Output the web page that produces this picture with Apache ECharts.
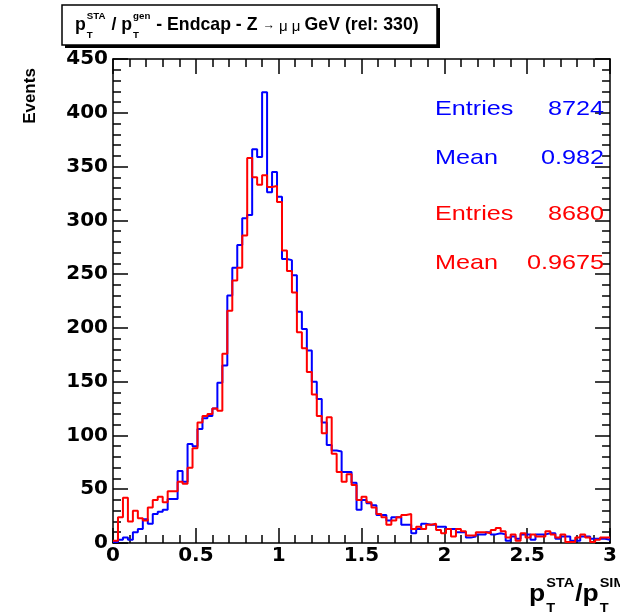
<!DOCTYPE html>
<html>
<head>
<meta charset="utf-8">
<script src="https://cdn.jsdelivr.net/npm/echarts@6.0.0/dist/echarts.min.js"></script>
<style>
html, body { margin: 0; padding: 0; background: #fff; }
#chart { width: 620px; height: 616px; }
</style>
</head>
<body>
<div id="chart"></div>
<script>
// histogram: 100 bins of 0.03 from 0 to 3
const binWidth = 0.03
const xRange = [0, 3]
const yRange = [0, 450]

// blue (rel 330, STA / gen)
const blueCounts = [1, 3, 5, 3, 10, 13, 22, 18, 27, 29, 31, 41, 41, 67, 57, 92, 90,
	106, 116, 118, 125, 149, 165, 230, 256, 277, 302, 305, 366, 359, 419, 326, 345, 322,
	264, 263, 249, 215, 199, 179, 150, 134, 112, 91, 86, 85, 66, 66, 56, 31, 40, 37, 35, 26,
	26, 21, 24, 24, 17, 17, 9, 13, 18, 17, 17, 15, 15, 13, 13, 10, 10, 5, 6, 8, 8, 10,
	8, 9, 8, 2, 6, 4, 8, 8, 3, 8, 8, 9, 9, 4, 6, 6, 2, 2, 6, 6, 4, 4, 4, 3]
// red (reference)
const redCounts = [2, 24, 42, 20, 30, 23, 21, 33, 40, 43, 38, 48, 48, 57, 55, 70, 88,
	112, 118, 120, 125, 123, 176, 216, 244, 256, 286, 358, 340, 333, 342, 331, 332, 317,
	272, 253, 233, 196, 181, 159, 138, 118, 102, 117, 83, 66, 57, 64, 54, 40, 43, 38, 33, 27,
	24, 17, 21, 24, 26, 27, 13, 15, 13, 17, 18, 12, 9, 13, 6, 13, 11, 7, 7, 10, 10, 9,
	12, 14, 11, 5, 8, 2, 9, 5, 8, 6, 6, 11, 8, 5, 8, 1, 1, 5, 8, 5, 1, 3, 5, 5]

// stats box
const statNames = ['Entries', 'Mean']
const blueStats = ['8724', '0.982']
const redStats = ['8680', '0.9675']

const BLUE = '#0000ff'
const RED = '#ff0000'
const FONT = '"Liberation Sans", Arial, sans-serif'
const TICK_FONT = '"DejaVu Sans", sans-serif'

// bin left edges + closing point, drawn with step 'end'
const toSteps = (counts) => {
	const pts = counts.map((c, i) => [+(i * binWidth).toFixed(3), c])
	pts.push([xRange[1], counts[counts.length - 1]])
	return pts
}

const txt = (x, y, text, size, opts = {}) => ({
	type: 'text',
	x, y,
	scaleX: opts.scaleX || 1,
	rotation: opts.rotation || 0,
	z: 100,
	style: {
		text,
		fontSize: size,
		fontWeight: opts.weight || 'bold',
		fontFamily: FONT,
		fill: opts.color || '#000',
		align: opts.align || 'left',
		verticalAlign: 'middle'
	}
})

// lay out a ROOT-like latex string: pieces placed one after the other
const ctx = document.createElement('canvas').getContext('2d')
const measure = (text, size, weight) => {
	ctx.font = weight + ' ' + size + 'px ' + FONT
	return ctx.measureText(text).width
}
const latex = (x0, yMid, size, pieces, sx = 1) => {
	const out = []
	let x = x0
	pieces.forEach((p) => {
		if (p.sup !== undefined) {
			const s = size * 0.55
			out.push(txt(x + 1, yMid - size * 0.5, p.sup, s, { scaleX: sx }))
			out.push(txt(x + 1, yMid + size * 0.6, p.sub, s, { scaleX: sx }))
			x += Math.max(measure(p.sup, s, 'bold'), measure(p.sub, s, 'bold')) * sx + 2
		} else {
			const s = size * (p.k || 1)
			const w = p.weight || 'bold'
			out.push(txt(x, yMid + (p.dy || 0), p.t, s, { weight: w, scaleX: sx }))
			x += measure(p.t, s, w) * sx
		}
	})
	return out
}

const axisCommon = {
	axisLine: { show: true, onZero: false, lineStyle: { color: '#000', width: 1.5 } },
	axisTick: { show: true, inside: true, length: 15, lineStyle: { color: '#000', width: 1.5 } },
	minorTick: { show: true, splitNumber: 5, length: 8, lineStyle: { color: '#000', width: 1.5 } },
	splitLine: { show: false },
	minorSplitLine: { show: false }
}
const labelStyle = { color: '#000', fontSize: 20, fontWeight: 'bold', fontFamily: TICK_FONT }

const graphic = [
	// title pave with shadow
	{ type: 'rect', shape: { x: 65, y: 8, width: 375, height: 40 }, style: { fill: '#000' }, z: 90 },
	{ type: 'rect', shape: { x: 62, y: 5, width: 375, height: 40 }, style: { fill: '#fff', stroke: '#000', lineWidth: 1.5 }, z: 91 },
	...latex(75, 25, 17.7, [
		{ t: 'p' }, { sup: 'STA', sub: 'T' },
		{ t: ' / p' }, { sup: 'gen', sub: 'T' },
		{ t: ' - Endcap - Z ' },
		{ t: '\u2192', k: 0.7, weight: 'normal', dy: 1 },
		{ t: ' \u03bc \u03bc ', k: 0.85, weight: 'normal', dy: 2 },
		{ t: 'GeV (rel: 330)' }
	]),
	// axis titles
	txt(30, 96, 'Events', 17, { rotation: Math.PI / 2, align: 'center' }),
	...latex(529, 595, 23, [
		{ t: 'p' }, { sup: 'STA', sub: 'T' }, { t: '/p' }, { sup: 'SIM', sub: 'T' }
	], 1.15)
]
// stats lines
statNames.forEach((name, i) => {
	graphic.push(txt(435, 109 + i * 49, name, 21, { weight: 'normal', color: BLUE, scaleX: 1.2 }))
	graphic.push(txt(604, 109 + i * 49, blueStats[i], 21, { weight: 'normal', color: BLUE, align: 'right', scaleX: 1.2 }))
	graphic.push(txt(435, 214 + i * 49, name, 21, { weight: 'normal', color: RED, scaleX: 1.2 }))
	graphic.push(txt(604, 214 + i * 49, redStats[i], 21, { weight: 'normal', color: RED, align: 'right', scaleX: 1.2 }))
})

const chart = echarts.init(document.getElementById('chart'))
chart.setOption({
	animation: false,
	backgroundColor: '#fff',
	grid: { left: 113, right: 2, top: 59, bottom: 73 },
	xAxis: [
		{ type: 'value', min: xRange[0], max: xRange[1], interval: 0.5, position: 'bottom', ...axisCommon,
			axisLabel: { ...labelStyle, margin: 3 } },
		{ type: 'value', min: xRange[0], max: xRange[1], interval: 0.5, position: 'top', ...axisCommon,
			axisLabel: { show: false } }
	],
	yAxis: [
		{ type: 'value', min: yRange[0], max: yRange[1], interval: 50, position: 'left', ...axisCommon,
			axisLabel: { ...labelStyle, margin: 5 } },
		{ type: 'value', min: yRange[0], max: yRange[1], interval: 50, position: 'right', ...axisCommon,
			axisLabel: { show: false } }
	],
	series: [
		{ name: 'blue', type: 'line', step: 'end', showSymbol: false, symbol: 'none', z: 3,
			lineStyle: { color: BLUE, width: 2 }, data: toSteps(blueCounts) },
		{ name: 'red', type: 'line', step: 'end', showSymbol: false, symbol: 'none', z: 4,
			lineStyle: { color: RED, width: 2 }, data: toSteps(redCounts) }
	],
	graphic
})
</script>
</body>
</html>
